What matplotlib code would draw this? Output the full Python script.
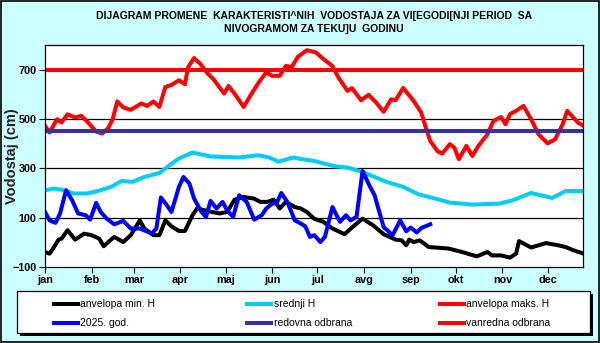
import matplotlib
matplotlib.use("Agg")
import matplotlib.pyplot as plt
from matplotlib.patches import Rectangle
from matplotlib.lines import Line2D

plt.rcParams['font.family'] = ['Liberation Sans', 'DejaVu Sans']

# x values are day of year
month_days = [0, 31, 59, 90, 120, 151, 181, 212, 243, 273, 304, 334]
month_labels = ['jan', 'feb', 'mar', 'apr', 'maj', 'jun', 'jul', 'avg', 'sep', 'okt', 'nov', 'dec']

min_days = [0, 3, 6, 9, 11, 15, 20, 26, 31, 36, 39, 42, 46, 52, 57, 63, 66, 72, 76, 80, 84, 89, 93,
            98, 101, 106, 111, 116, 121, 126, 132, 139, 143, 148, 152, 156, 160, 166, 170, 174, 179,
            185, 191, 199, 205, 211, 218, 225, 233, 237, 240, 242, 245, 249, 255, 268, 277, 287, 294,
            297, 303, 309, 313, 315, 323, 333, 341, 346, 351, 358]
min_vals = [-39, -46, -19, 11, 15, 49, 11, 35, 29, 15, -16, 1, 22, 1, 29, 89, 56, 29, 29, 89, 65, 46, 46,
            110, 137, 130, 123, 117, 123, 173, 184, 177, 164, 164, 173, 137, 164, 143, 137, 123, 95,
            83, 56, 33, 65, 96, 69, 33, 11, 8, -12, 11, 1, 8, -19, -25, -39, -57, -39,
            -53, -53, -62, -46, 5, -21, -3, -12, -19, -32, -46]

avg_days = [0, 6, 13, 19, 28, 35, 44, 51, 58, 66, 76, 82, 89, 98, 110, 129, 142, 149, 155, 165, 172,
            179, 185, 192, 201, 211, 219, 227, 238, 248, 259, 269, 284, 302, 311, 323, 337, 346, 358]
avg_vals = [211, 218, 211, 198, 198, 208, 225, 249, 245, 265, 281, 309, 340, 364, 348, 344, 353, 344, 327,
            344, 336, 330, 320, 309, 303, 285, 265, 245, 225, 195, 178, 161, 153, 157, 171, 200, 180,
            208, 208]

max_days = [0, 3, 8, 11, 15, 20, 24, 28, 34, 38, 42, 45, 48, 52, 57, 64, 68, 72, 76, 80, 84, 89, 93,
            95, 99, 103, 108, 112, 119, 122, 127, 132, 137, 142, 147, 151, 156, 160, 164, 168, 174,
            180, 185, 191, 195, 201, 204, 210, 215, 220, 225, 230, 233, 238, 245, 250, 253, 256, 261,
            264, 269, 272, 275, 280, 284, 288, 294, 298, 303, 306, 309, 313, 318, 323, 328, 334, 339,
            344, 347, 350, 354, 358]
max_vals = [472, 445, 499, 486, 519, 506, 513, 490, 449, 441, 463, 499, 571, 547, 537, 563, 553, 571, 549,
            630, 638, 657, 641, 709, 747, 725, 685, 661, 603, 634, 594, 549, 600, 648, 689, 675, 675,
            715, 711, 752, 779, 770, 743, 715, 668, 614, 625, 576, 598, 567, 529, 580, 576, 626, 573,
            526, 466, 411, 368, 360, 398, 384, 337, 391, 350, 391, 438, 492, 508, 479, 520, 533, 553,
            499, 438, 401, 418, 479, 533, 513, 486, 472]

cur_days = [0, 3, 7, 10, 14, 18, 22, 27, 30, 34, 37, 41, 46, 52, 57, 63, 67, 71, 74, 77, 81, 84, 89,
            92, 96, 99, 104, 107, 110, 114, 118, 121, 125, 129, 134, 139, 144, 147, 151, 154, 157,
            161, 166, 170, 173, 176, 179, 183, 186, 191, 196, 200, 203, 207, 211, 216, 219, 225, 231,
            236, 240, 243, 247, 250, 256]
cur_vals = [123, 89, 79, 117, 211, 171, 117, 110, 92, 160, 123, 96, 73, 87, 56, 56, 46, 36, 56, 182,
            150, 123, 225, 265, 238, 178, 123, 103, 168, 137, 164, 130, 103, 191, 164, 92, 110, 137,
            157, 160, 200, 164, 89, 76, 65, 22, 29, 1, 22, 143, 83, 110, 89, 103, 289, 225, 191, 62,
            29, 89, 45, 60, 40, 58, 73]

redovna = 450
vanredna = 700

W, H = 600, 343


def fx(px):
    return px / W


def fy(py):
    return 1 - py / H


fig = plt.figure(figsize=(6.0, 3.43), dpi=100, facecolor='#ccffff')
ax = fig.add_axes([fx(45), fy(267), 538 / W, 222 / H])
ax.set_facecolor('white')

lw = 2.9
ax.plot(min_days, min_vals, color='black', lw=lw, label='anvelopa min. H')
ax.plot(avg_days, avg_vals, color='#00ccff', lw=lw, label='srednji H')
ax.plot(max_days, max_vals, color='#ff0000', lw=lw, label='anvelopa maks. H')
ax.plot(cur_days, cur_vals, color='#0000ff', lw=lw, label='2025. god.')
ax.axhline(redovna, color='#333399', lw=lw, label='redovna odbrana')
ax.axhline(vanredna, color='#ff0000', lw=lw, label='vanredna odbrana')

ax.set_xlim(0, 357.5)
ax.set_ylim(-100, 800)
ax.set_yticks([-100, 100, 300, 500, 700])
ax.set_xticks(month_days)
ax.set_xticklabels(month_labels)
for y in [100, 300, 500, 700]:
    ax.axhline(y, color='black', lw=0.9, zorder=0.5)
ax.tick_params(axis='both', direction='out', length=4, width=0.8, labelsize=7.8, pad=2)
for lab in ax.get_yticklabels() + ax.get_xticklabels():
    lab.set_fontweight('bold')
for s in ax.spines.values():
    s.set_linewidth(0.9)
ax.set_ylabel('Vodostaj (cm)', fontsize=10.5, fontweight='bold', color='#222222')
ax.yaxis.set_label_coords((19 - 45) / 538, 0.5)

fig.text(0.523, fy(16),
         'DIJAGRAM PROMENE  KARAKTERISTI^NIH  VODOSTAJA ZA VI[EGODI[NJI PERIOD  SA',
         ha='center', va='center', fontsize=7.5, fontweight='bold')
fig.text(0.523, fy(29), 'NIVOGRAMOM ZA TEKU]U  GODINU',
         ha='center', va='center', fontsize=7.5, fontweight='bold')

# legend box drawn by hand so the entries sit where the original has them
x0, y0, x1, y1 = 17, 291, 590, 333
fig.patches.append(Rectangle((fx(x0 + 3), fy(y1 + 3)), (x1 - x0) / W, (y1 - y0) / H,
                             transform=fig.transFigure, facecolor='black', edgecolor='none'))
fig.patches.append(Rectangle((fx(x0), fy(y1)), (x1 - x0) / W, (y1 - y0) / H,
                             transform=fig.transFigure, facecolor='white', edgecolor='black', lw=0.9))
handles, labels = ax.get_legend_handles_labels()
col_x = [52, 245, 438]
row_y = [304, 323]
for i, (hd, lb) in enumerate(zip(handles, labels)):
    cx = col_x[i % 3]
    ry = row_y[i // 3]
    fig.lines.append(Line2D([fx(cx), fx(cx + 28)], [fy(ry), fy(ry)], transform=fig.transFigure,
                            color=hd.get_color(), lw=lw, solid_capstyle='butt'))
    fig.text(fx(cx + 28.5), fy(ry), lb, ha='left', va='center', fontsize=7.5)

fig.patches.append(Rectangle((0.001, 0.002), 0.997, 0.996, transform=fig.transFigure,
                             fill=False, edgecolor='black', lw=1.2))

fig.savefig('out.png', dpi=100, facecolor=fig.get_facecolor())
